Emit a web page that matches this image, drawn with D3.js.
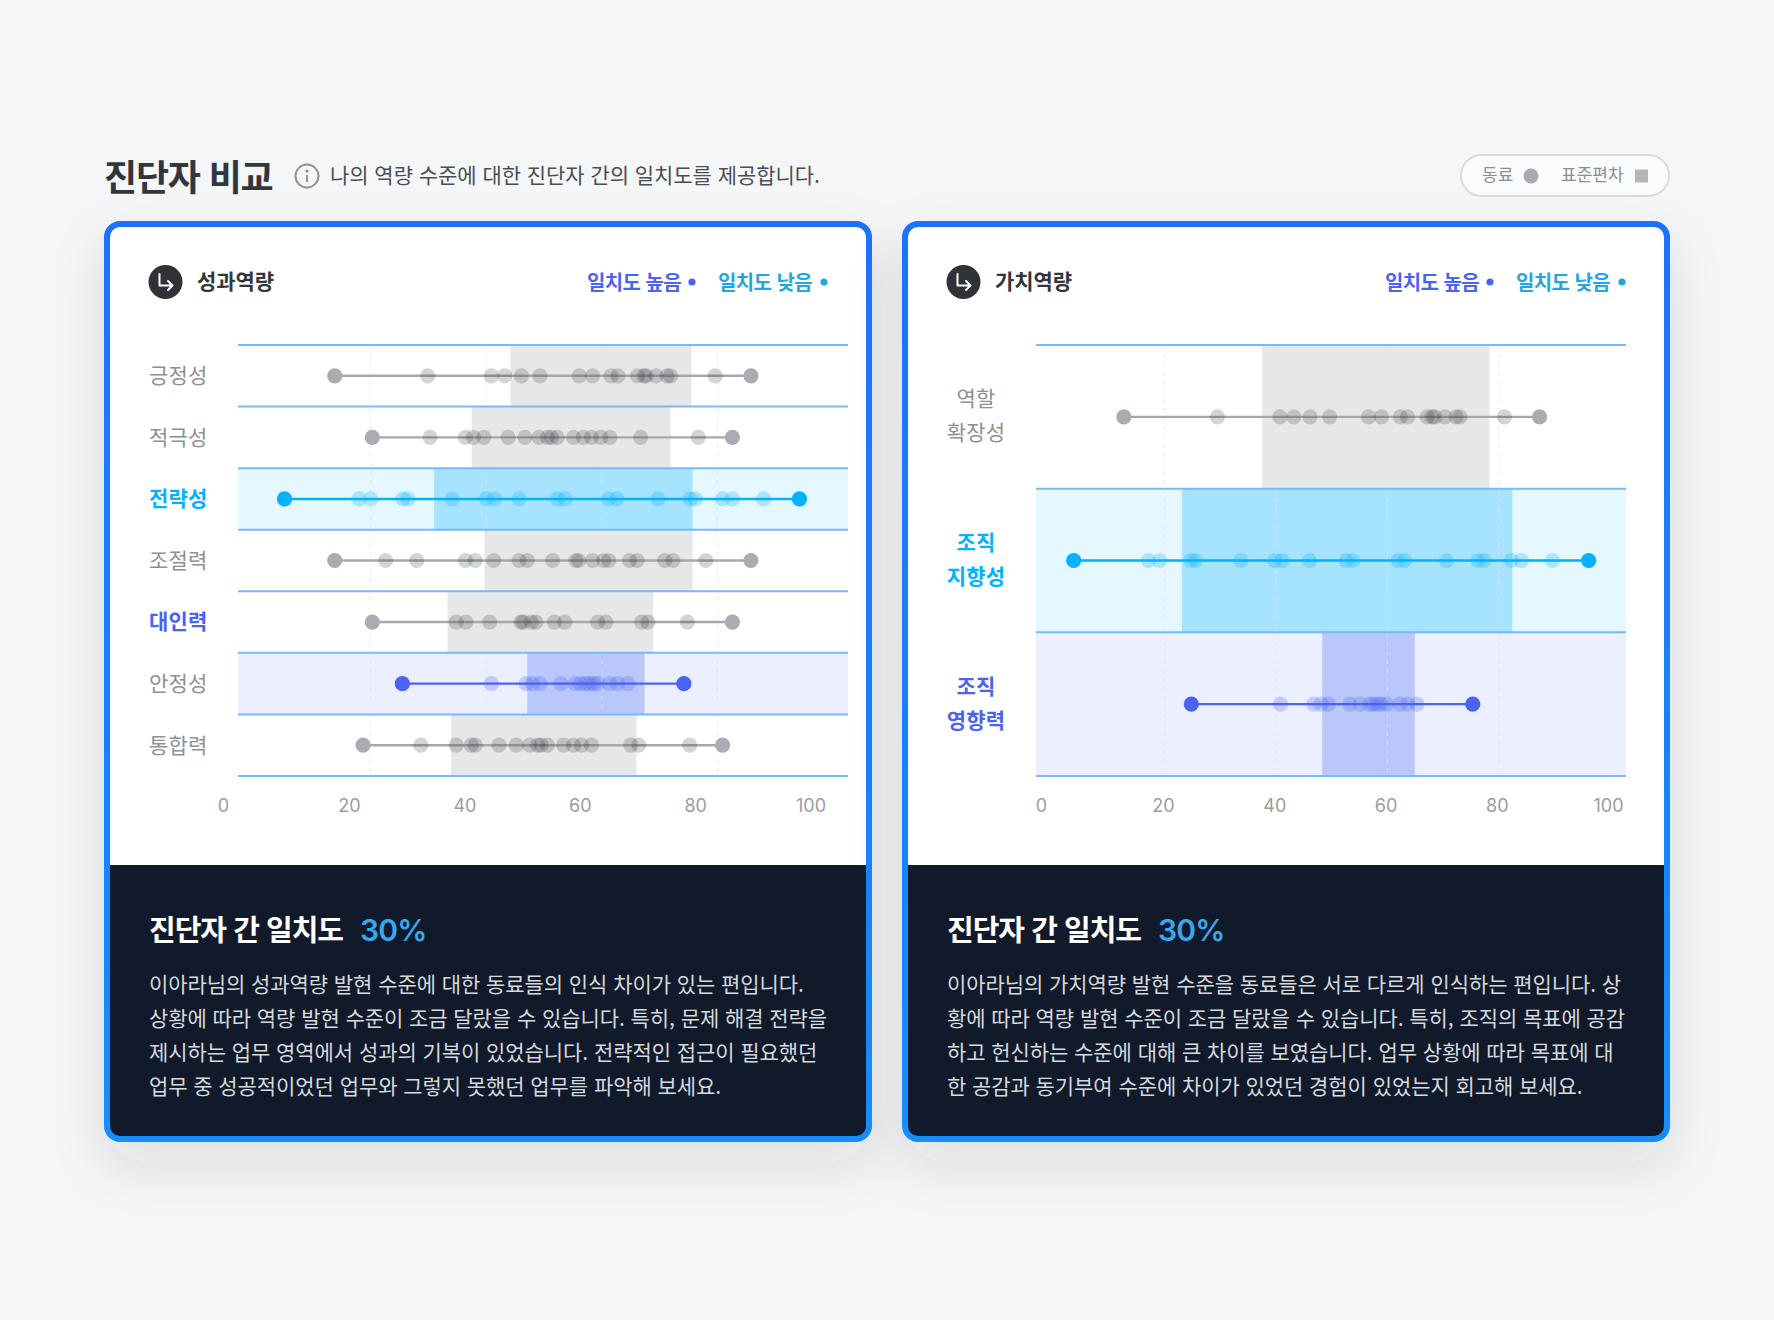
<!DOCTYPE html>
<html lang="ko"><head><meta charset="utf-8">
<script src="https://cdn.jsdelivr.net/npm/d3@7/dist/d3.min.js"></script>
<style>
html,body{margin:0;padding:0;background:#f4f6f8;}
svg{display:block;}
text{font-family:"Noto Sans CJK KR","Noto Sans",sans-serif;}
</style></head><body>
<div id="chart"></div>
<script>
// ---------- data ----------
const tickLabels = [0, 20, 40, 60, 80, 100];
const gridTicks = [20, 40, 60, 80];

const leftTitle = "성과역량";
const leftCategories = ["긍정성","적극성","전략성","조절력","대인력","안정성","통합력"];
const leftStates = ["normal","normal","low","normal","labelHigh","high","normal"];
const leftBands = [[44.2,75.5],[37.5,71.9],[31,75.7],[39.7,75.7],[33.3,68.9],[47.1,67.4],[33.9,66]];
const leftRanges = [[13.8,85.8],[20.3,82.6],[5.1,94.2],[13.8,85.8],[20.3,82.6],[25.5,74.2],[18.7,80.9]];
const leftPeers = [
  [29.9,40.9,43.2,46.1,49.3,56.1,58.4,61.6,62.8,66.2,67.3,67.7,69.4,71.3,71.9,79.6],
  [30.3,36.4,37.8,39.6,43.8,46.7,49.1,50.6,51.3,52.3,55.1,56.8,58.2,59.8,61.4,66.7,76.7],
  [18,20,25.6,26.4,34.1,40,41.4,45.7,52.3,53.6,61.2,62.6,69.7,75.3,76.2,80.9,82.6,88],
  [22.6,28,36.4,38.1,41.3,45.7,47.1,51.5,55.5,56,58.4,60.3,61.2,64.8,66.1,70.9,72.3,78],
  [34.8,36.5,40.6,46,46.4,47.8,48.6,51.8,53.6,59.3,60.7,66.9,68,74.8],
  [40.9,46.9,48,49.3,52.9,55.4,56.3,57.2,57.9,58.6,59.3,61.4,62.7,64.5],
  [28.7,34.8,37.4,38.1,42.2,45.2,47.5,48.9,49.5,50.6,53.4,55.1,56.5,58.2,65,66.4,75.2]
];
const leftText = [
  "이아라님의 성과역량 발현 수준에 대한 동료들의 인식 차이가 있는 편입니다.",
  "상황에 따라 역량 발현 수준이 조금 달랐을 수 있습니다. 특히, 문제 해결 전략을",
  "제시하는 업무 영역에서 성과의 기복이 있었습니다. 전략적인 접근이 필요했던",
  "업무 중 성공적이었던 업무와 그렇지 못했던 업무를 파악해 보세요."
];

const rightTitle = "가치역량";
const rightCategories = [["역할","확장성"],["조직","지향성"],["조직","영향력"]];
const rightStates = ["normal","low","high"];
const rightBands = [[37.5,78.3],[23.1,82.4],[48.3,64.9]];
const rightRanges = [[12.7,87.3],[3.7,96.1],[24.8,75.3]];
const rightPeers = [
  [29.5,40.7,43.2,46.1,49.6,56.6,58.9,62.3,63.6,67.1,68,68.5,70.3,72.3,73,81],
  [17.1,19.1,24.7,25.6,33.7,39.8,41.1,46,52.6,53.8,61.9,63.1,70.6,76.2,77.3,82.2,84,89.6],
  [40.8,46.8,48.1,49.4,53.2,55.1,56.8,57.5,58.2,58.9,59.9,62.2,63.6,65.3]
];
const rightText = [
  "이아라님의 가치역량 발현 수준을 동료들은 서로 다르게 인식하는 편입니다. 상",
  "황에 따라 역량 발현 수준이 조금 달랐을 수 있습니다. 특히, 조직의 목표에 공감",
  "하고 헌신하는 수준에 대해 큰 차이를 보였습니다. 업무 상황에 따라 목표에 대",
  "한 공감과 동기부여 수준에 차이가 있었던 경험이 있었는지 회고해 보세요."
];
const agreementPct = "30%";

// ---------- style ----------
const C = {
  bg:"#f4f6f8", dark:"#111a2a", rule:"#7ab9f7", grid:"#e3e5e8",
  tick:"#9a9da1", label:"#8d9095", title:"#33373d",
  blue:"#4a63f0", cyan:"#00b2ff", legendCyan:"#22a6e2"
};
const palette = {
  normal:{row:"none",band:"#e6e7e9",end:"#a9adb3",line:"#a6a8ab",dot:"rgba(48,52,58,0.21)"},
  labelHigh:{row:"none",band:"#e6e7e9",end:"#a9adb3",line:"#a6a8ab",dot:"rgba(48,52,58,0.21)"},
  low:{row:"#e5f7ff",band:"#a5e3ff",end:C.cyan,line:C.cyan,dot:"rgba(0,178,255,0.26)"},
  high:{row:"#ebefff",band:"#bac7fa",end:C.blue,line:C.blue,dot:"rgba(74,99,240,0.26)"}
};

const W = 1774, H = 1320;
const svg = d3.select("#chart").append("svg").attr("width",W).attr("height",H).attr("viewBox",[0,0,W,H]);
svg.append("rect").attr("width",W).attr("height",H).attr("fill",C.bg);

const defs = svg.append("defs");
const grad = defs.append("linearGradient").attr("id","cardBorder").attr("x1",0).attr("x2",0).attr("y1",0).attr("y2",1);
grad.append("stop").attr("offset",0).attr("stop-color","#1f72ff");
grad.append("stop").attr("offset",1).attr("stop-color","#148dff");
const shadow = defs.append("filter").attr("id","cardShadow").attr("x","-25%").attr("y","-25%").attr("width","150%").attr("height","160%");
shadow.append("feDropShadow").attr("dx",0).attr("dy",22).attr("stdDeviation",26).attr("flood-color","#2a3038").attr("flood-opacity",0.12);

// ---------- page header ----------
svg.append("text").attr("x",104).attr("y",178).attr("dy","0.35em")
  .attr("font-size",36).attr("font-weight",700).attr("fill",C.title).attr("letter-spacing",-1.2).text("진단자 비교");
const info = svg.append("g").attr("transform","translate(307,176)");
info.append("circle").attr("r",11.5).attr("fill","none").attr("stroke","#8f9297").attr("stroke-width",2);
info.append("circle").attr("cy",-5).attr("r",1.6).attr("fill","#8f9297");
info.append("line").attr("y1",-1).attr("y2",6).attr("stroke","#8f9297").attr("stroke-width",2);
svg.append("text").attr("x",330).attr("y",175.5).attr("dy","0.35em")
  .attr("font-size",21).attr("fill","#4a4e54").attr("letter-spacing",-0.05).text("나의 역량 수준에 대한 진단자 간의 일치도를 제공합니다.");

// legend pill
const pill = svg.append("g");
pill.append("rect").attr("x",1461).attr("y",155).attr("width",208).attr("height",41).attr("rx",20.5)
  .attr("fill","#fafbfc").attr("stroke","#d9dbde").attr("stroke-width",2);
pill.append("text").attr("x",1482).attr("y",175.5).attr("dy","0.35em").attr("font-size",17).attr("fill","#8a8d92").text("동료");
pill.append("circle").attr("cx",1531).attr("cy",176).attr("r",7.5).attr("fill","#a9abb2");
pill.append("text").attr("x",1561).attr("y",175.5).attr("dy","0.35em").attr("font-size",17).attr("fill","#8a8d92").text("표준편차");
pill.append("rect").attr("x",1635).attr("y",169.5).attr("width",13).attr("height",13).attr("fill","#b4b6bb");

// ---------- panels ----------
function panel(opt){
  const g = svg.append("g");
  const id = opt.id;
  const cx0 = opt.x0, cw = 768, top = 221, bottom = 1142, b = 6, footerTop = 865;

  g.append("rect").attr("x",cx0).attr("y",top).attr("width",cw).attr("height",bottom-top).attr("rx",16)
    .attr("fill","url(#cardBorder)").attr("filter","url(#cardShadow)");
  defs.append("clipPath").attr("id","clip"+id).append("rect")
    .attr("x",cx0+b).attr("y",top+b).attr("width",cw-2*b).attr("height",bottom-top-2*b).attr("rx",10);
  const inner = g.append("g").attr("clip-path",`url(#clip${id})`);
  inner.append("rect").attr("x",cx0+b).attr("y",top+b).attr("width",cw-2*b).attr("height",footerTop-top-b).attr("fill","#fff");
  inner.append("rect").attr("x",cx0+b).attr("y",footerTop).attr("width",cw-2*b).attr("height",bottom-footerTop).attr("fill",C.dark);

  // card head
  const icon = g.append("g").attr("transform",`translate(${cx0+61.5},282)`);
  icon.append("circle").attr("r",17).attr("fill","#2f3338");
  icon.append("path").attr("d","M-6,-8V3.5H6M2.5,-1L7,3.5L2.5,8").attr("fill","none").attr("stroke","#fff").attr("stroke-width",2).attr("stroke-linecap","round").attr("stroke-linejoin","round");
  g.append("text").attr("x",cx0+93).attr("y",282).attr("dy","0.35em").attr("font-size",21).attr("font-weight",700)
    .attr("fill",C.title).attr("letter-spacing",-0.1).text(opt.title);
  const legendItems = [
    {t:"일치도 높음",x:cx0+483,dot:cx0+588,c:C.blue},
    {t:"일치도 낮음",x:cx0+614,dot:cx0+720,c:C.legendCyan}
  ];
  legendItems.forEach(d=>{
    g.append("text").attr("x",d.x).attr("y",283).attr("dy","0.35em").attr("font-size",20).attr("font-weight",700)
      .attr("fill",d.c).attr("letter-spacing",-0.6).text(d.t);
    g.append("circle").attr("cx",d.dot).attr("cy",282).attr("r",3.6).attr("fill",d.c);
  });

  // scales
  const x = d3.scaleLinear().domain([0,100]).range(opt.xRange);
  const y = d3.scaleBand().domain(d3.range(opt.rows.length)).range([345,776]);
  const tickX = d3.scaleLinear().domain([0,20,100]).range(opt.tickRange);

  // row backgrounds
  const plot = g.append("g");
  plot.selectAll("rect.row").data(opt.rows).join("rect").attr("class","row")
    .attr("x",opt.lineRange[0]).attr("width",opt.lineRange[1]-opt.lineRange[0])
    .attr("y",(d,i)=>y(i)).attr("height",y.bandwidth())
    .attr("fill",d=>palette[d.state].row);
  plot.selectAll("rect.band").data(opt.rows).join("rect").attr("class","band")
    .attr("x",d=>x(d.band[0])).attr("width",d=>x(d.band[1])-x(d.band[0]))
    .attr("y",(d,i)=>y(i)).attr("height",y.bandwidth())
    .attr("fill",d=>palette[d.state].band);

  // dashed grid
  plot.selectAll("line.grid").data(gridTicks).join("line").attr("class","grid")
    .attr("x1",d=>x(d)).attr("x2",d=>x(d)).attr("y1",345).attr("y2",776)
    .attr("stroke",C.grid).attr("stroke-opacity",0.8).attr("stroke-width",1).attr("stroke-dasharray","4 5");

  // row rules
  plot.selectAll("line.rule").data(d3.range(opt.rows.length+1)).join("line").attr("class","rule")
    .attr("x1",opt.lineRange[0]).attr("x2",opt.lineRange[1])
    .attr("y1",i=>345+i*y.step()).attr("y2",i=>345+i*y.step())
    .attr("stroke",C.rule).attr("stroke-width",2);

  // range lines, peers and ends
  const rowG = plot.selectAll("g.rowg").data(opt.rows).join("g").attr("class","rowg")
    .attr("transform",(d,i)=>`translate(0,${y(i)+y.bandwidth()/2})`);
  rowG.append("line").attr("x1",d=>x(d.range[0])).attr("x2",d=>x(d.range[1]))
    .attr("stroke",d=>palette[d.state].line).attr("stroke-width",2.4);
  rowG.selectAll("circle.peer").data(d=>d.peers.map(v=>({v,state:d.state}))).join("circle").attr("class","peer")
    .attr("cx",d=>x(d.v)).attr("r",7.6).attr("fill",d=>palette[d.state].dot);
  rowG.selectAll("circle.end").data(d=>d.range.map(v=>({v,state:d.state}))).join("circle").attr("class","end")
    .attr("cx",d=>x(d.v)).attr("r",7.6).attr("fill",d=>palette[d.state].end);

  // row labels
  const labelColor = s => s==="low" ? C.cyan : s==="labelHigh"||(s==="high"&&opt.boldHigh) ? C.blue : C.label;
  const labelWeight = s => s==="low"||s==="labelHigh"||(s==="high"&&opt.boldHigh) ? 700 : 400;
  const lab = g.selectAll("text.rowlabel").data(opt.rows).join("text").attr("class","rowlabel")
    .attr("x",opt.labelX).attr("text-anchor",opt.labelAnchor)
    .attr("font-size",21).attr("letter-spacing",0.2)
    .attr("fill",d=>labelColor(d.state)).attr("font-weight",d=>labelWeight(d.state));
  lab.each(function(d,i){
    const lines = [].concat(d.name), el = d3.select(this), c = y(i)+y.bandwidth()/2;
    lines.forEach((t,j)=>{
      el.append("tspan").attr("x",opt.labelX).attr("y",c+(j-(lines.length-1)/2)*34-(lines.length>1?1:0)).attr("dy","0.35em").text(t);
    });
  });

  // axis
  const axis = g.append("g").attr("transform","translate(0,798)")
    .call(d3.axisBottom(tickX).tickValues(tickLabels).tickSize(0).tickPadding(0).tickFormat(d3.format("d")));
  axis.select(".domain").remove();
  axis.selectAll("text").style("font-family",'"Inter","Noto Sans",sans-serif').attr("font-size",18).attr("fill",C.tick).attr("dy","0.75em").attr("y",0);

  // footer
  g.append("text").attr("x",cx0+45).attr("y",931).attr("dy","0.35em")
    .attr("font-size",29).attr("font-weight",700).attr("fill","#fff").attr("letter-spacing",-1).text("진단자 간 일치도");
  g.append("text").attr("x",cx0+256).attr("y",930).attr("dy","0.35em")
    .style("font-family",'"Inter",sans-serif').attr("font-size",30).attr("font-weight",600).attr("fill","#39a6ee").attr("letter-spacing",-0.8).text(agreementPct);
  g.selectAll("text.body").data(opt.text).join("text").attr("class","body")
    .attr("x",cx0+45).attr("y",(d,i)=>985+i*33.8).attr("dy","0.35em")
    .attr("font-size",21).attr("fill","#d6d9de").attr("letter-spacing",-0.07).text(d=>d);
}

const rowsOf = (names,states,bands,ranges,peers)=>names.map((name,i)=>({name,state:states[i],band:bands[i],range:ranges[i],peers:peers[i]}));

panel({id:"L",x0:104,title:leftTitle,xRange:[255,833],lineRange:[238,848],tickRange:[223,349,810.5],
  labelX:149,labelAnchor:"start",boldHigh:false,
  rows:rowsOf(leftCategories,leftStates,leftBands,leftRanges,leftPeers),text:leftText});
panel({id:"R",x0:902,title:rightTitle,xRange:[1053.1,1610.4],lineRange:[1036,1626],tickRange:[1041,1163,1608],
  labelX:976,labelAnchor:"middle",boldHigh:true,
  rows:rowsOf(rightCategories,rightStates,rightBands,rightRanges,rightPeers),text:rightText});
</script>
</body></html>
